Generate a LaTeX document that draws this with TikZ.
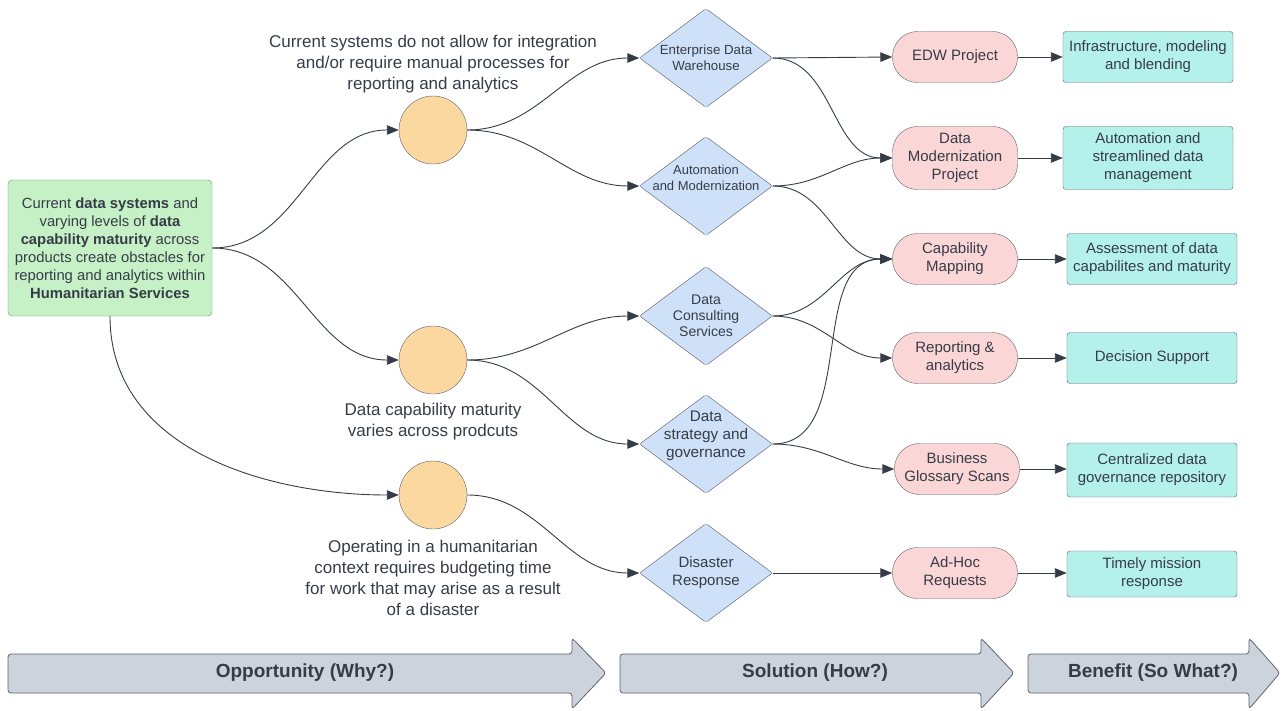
\documentclass[tikz,border=0pt]{standalone}
\usepackage{fontspec}
\setmainfont{Liberation Sans}
\usetikzlibrary{arrows.meta,shapes.geometric}
\definecolor{ink}{HTML}{363C47}
\definecolor{greenfill}{HTML}{C6F1C6}
\definecolor{greenline}{HTML}{5C9A5C}
\definecolor{orangefill}{HTML}{FBD89F}
\definecolor{bluefill}{HTML}{CFE1F9}
\definecolor{pinkfill}{HTML}{FAD6D6}
\definecolor{tealfill}{HTML}{B4F1EA}
\definecolor{grayfill}{HTML}{CDD3DD}
\begin{document}
\begin{tikzpicture}[x=1pt,y=-1pt,
  every node/.style={text=ink},
  probbox/.style={draw=greenline, fill=greenfill, rounded corners=4pt, minimum width=204pt, minimum height=136pt, align=center, inner sep=0pt, font=\fontsize{14.8pt}{18pt}\selectfont},
  oppcirc/.style={circle, draw=ink!80, fill=orangefill, minimum size=68pt, inner sep=0pt},
  opptext/.style={align=center, font=\fontsize{17pt}{20.8pt}\selectfont, inner sep=0pt},
  dia/.style={diamond, draw=ink!85, fill=bluefill, minimum width=133pt, minimum height=99pt, inner sep=0pt, rounded corners=2pt},
  dlab/.style={align=center, font=\fontsize{13.3pt}{16pt}\selectfont, inner sep=0pt},
  solnode/.style={draw=ink!80, fill=pinkfill, rounded corners=25pt, minimum width=125pt, minimum height=51pt, align=center, inner sep=0pt, font=\fontsize{15pt}{18pt}\selectfont},
  benbox/.style={draw=ink!80, fill=tealfill, rounded corners=3pt, minimum width=170pt, minimum height=51pt, align=center, inner sep=0pt, font=\fontsize{15pt}{18pt}\selectfont},
  link/.style={draw=ink, line width=0.9pt, -{Triangle[length=12pt,width=9.5pt]}},
  bigarrow/.style={draw=ink!80, fill=grayfill, line width=0.8pt, rounded corners=3pt},
  biglab/.style={font=\fontsize{19pt}{22pt}\selectfont\bfseries, inner sep=0pt}
]
\useasboundingbox (0,0) rectangle (1281,711);

% problem box
\node[probbox] (prob) at (110,248) {Current \textbf{data systems} and\\ varying levels of \textbf{data}\\ \textbf{capability maturity} across\\ products create obstacles for\\ reporting and analytics within\\ \textbf{Humanitarian Services}};

% opportunity circles
\node[oppcirc] (c1) at (433,130) {};
\node[oppcirc] (c2) at (433,360) {};
\node[oppcirc] (c3) at (433,495) {};
\node[opptext] (t1) at (433,64) {Current systems do not allow for integration\\ and/or require manual processes for\\ reporting and analytics};
\node[opptext] (t2) at (433,422) {Data capability maturity\\ varies across prodcuts};
\node[opptext] (t3) at (433,578) {Operating in a humanitarian\\ context requires budgeting time\\ for work that may arise as a result\\ of a disaster};

% diamonds
\node[dia, label={[dlab]center:Enterprise Data\\Warehouse}] (d1) at (706,58) {};
\node[dia, label={[dlab, yshift=8pt, font=\fontsize{13pt}{16pt}\selectfont]center:Automation\\and Modernization}] (d2) at (706,186) {};
\node[dia, label={[dlab, font=\fontsize{14pt}{16pt}\selectfont]center:Data\\Consulting\\Services}] (d3) at (706,316) {};
\node[dia, label={[dlab, yshift=8pt, font=\fontsize{15.3pt}{18pt}\selectfont]center:Data\\strategy and\\governance}] (d4) at (706,444) {};
\node[dia, label={[dlab, font=\fontsize{15pt}{18pt}\selectfont]center:Disaster\\Response}] (d5) at (706,573) {};

% solutions
\node[solnode] (s1) at (955,57) {EDW Project};
\node[solnode, minimum height=63pt] (s2) at (955,158) {Data\\Modernization\\Project};
\node[solnode] (s3) at (955,259) {Capability\\Mapping};
\node[solnode] (s4) at (955,358) {Reporting \&\\analytics};
\node[solnode] (s5) at (957,469) {Business\\Glossary Scans};
\node[solnode] (s6) at (955,573) {Ad-Hoc\\Requests};

% benefits
\node[benbox] (b1) at (1148,57) {Infrastructure, modeling\\and blending};
\node[benbox, minimum height=63pt] (b2) at (1148,158) {Automation and\\streamlined data\\management};
\node[benbox] (b3) at (1152,259) {Assessment of data\\capabilites and maturity};
\node[benbox] (b4) at (1152,358) {Decision Support};
\node[benbox, minimum height=54pt] (b5) at (1152,470) {Centralized data\\governance repository};
\node[benbox, minimum height=46pt] (b6) at (1152,574) {Timely mission\\response};

% connectors: problem -> opportunities
\draw[link] (prob.east) to[out=0,in=180] (c1.west);
\draw[link] (prob.east) to[out=0,in=180] (c2.west);
\draw[link] (prob.south) to[out=-90,in=180] (c3.west);

% opportunities -> solutions
\draw[link] (c1.east) to[out=0,in=180] (d1.west);
\draw[link] (c1.east) to[out=0,in=180] (d2.west);
\draw[link] (c2.east) to[out=0,in=180] (d3.west);
\draw[link] (c2.east) to[out=0,in=180] (d4.west);
\draw[link] (c3.east) to[out=0,in=180] (d5.west);

% diamonds -> projects
\draw[link] (d1.east) -- (s1.west);
\draw[link] (d1.east) to[out=0,in=180] (s2.west);
\draw[link] (d2.east) to[out=0,in=180] (s2.west);
\draw[link] (d2.east) to[out=0,in=180] (s3.west);
\draw[link] (d3.east) to[out=0,in=180] (s3.west);
\draw[link] (d3.east) to[out=0,in=180] (s4.west);
\draw[link] (d4.east) to[out=0,in=180] (s3.west);
\draw[link] (d4.east) to[out=0,in=180] (s5.west);
\draw[link] (d5.east) -- (s6.west);

% projects -> benefits
\draw[link] (s1.east) -- (s1.east -| b1.west);
\draw[link] (s2.east) -- (s2.east -| b2.west);
\draw[link] (s3.east) -- (s3.east -| b3.west);
\draw[link] (s4.east) -- (s4.east -| b4.west);
\draw[link] (s5.east) -- (s5.east -| b5.west);
\draw[link] (s6.east) -- (s6.east -| b6.west);

% bottom arrows
\draw[bigarrow] (8,654) -- (572,654) -- (572,638) -- (606,673) -- (572,709) -- (572,693) -- (8,693) -- cycle;
\node[biglab] (l1) at (305,673) {Opportunity (Why?)};
\draw[bigarrow] (620,654) -- (981,654) -- (981,638) -- (1014,673) -- (981,709) -- (981,693) -- (620,693) -- cycle;
\node[biglab] (l2) at (815,673) {Solution (How?)};
\draw[bigarrow] (1028,654) -- (1249,654) -- (1249,638) -- (1280,673) -- (1249,709) -- (1249,693) -- (1028,693) -- cycle;
\node[biglab] (l3) at (1153,673) {Benefit (So What?)};
\end{tikzpicture}
\end{document}
